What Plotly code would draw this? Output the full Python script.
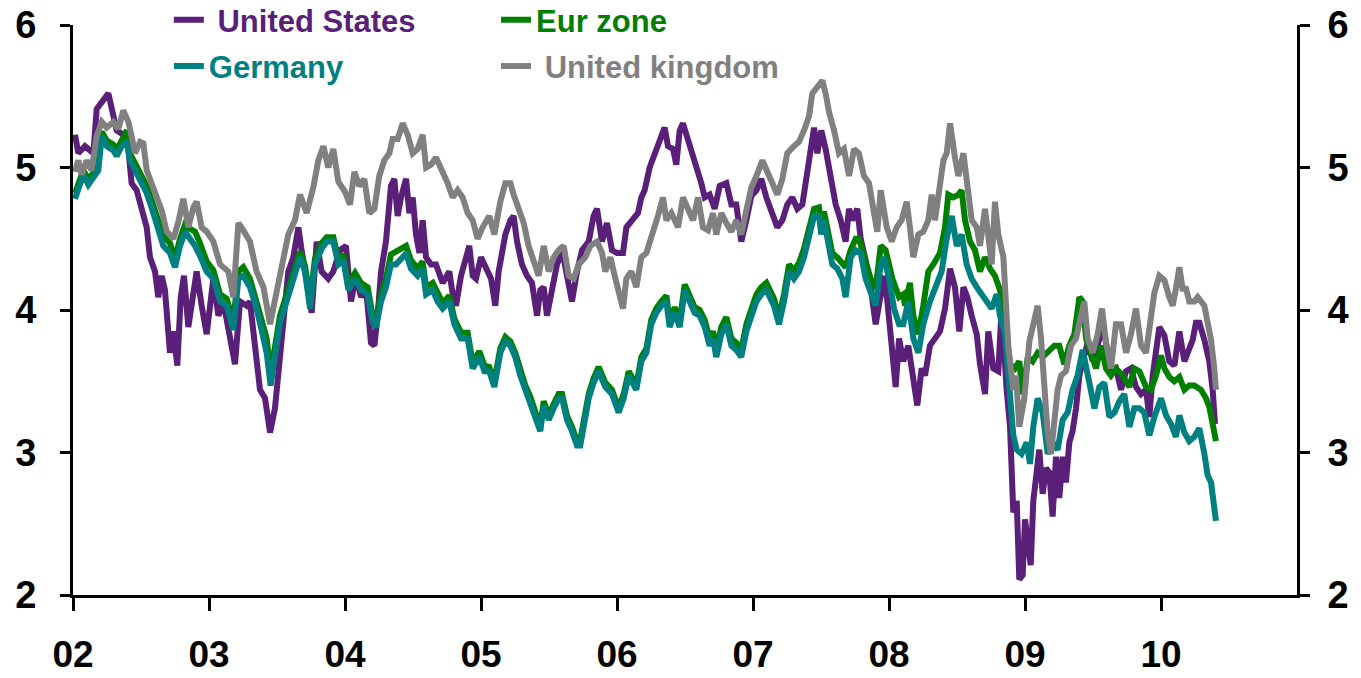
import plotly.graph_objects as go

# ---- data (decimal year, yield %) ----
us_pts = [
    (2002.015, 5.23), (2002.039, 5.10), (2002.088, 5.15), (2002.150, 5.10), (2002.174, 5.41),
    (2002.211, 5.46), (2002.260, 5.52), (2002.321, 5.26), (2002.370, 5.23), (2002.407, 5.13),
    (2002.431, 4.89), (2002.468, 4.84), (2002.505, 4.71), (2002.542, 4.58), (2002.566, 4.37),
    (2002.603, 4.27), (2002.627, 4.09), (2002.652, 4.24), (2002.676, 4.14), (2002.713, 3.70),
    (2002.738, 3.85), (2002.767, 3.61), (2002.792, 4.09), (2002.816, 4.24), (2002.848, 3.88),
    (2002.885, 4.16), (2002.909, 4.27), (2002.946, 4.03), (2002.983, 3.83), (2003.032, 4.22),
    (2003.069, 3.96), (2003.105, 4.06), (2003.154, 3.80), (2003.191, 3.62), (2003.228, 4.06),
    (2003.277, 4.03), (2003.301, 4.06), (2003.338, 3.70), (2003.375, 3.44), (2003.412, 3.38),
    (2003.449, 3.14), (2003.485, 3.31), (2003.510, 3.57), (2003.547, 3.96), (2003.583, 4.27),
    (2003.620, 4.37), (2003.657, 4.58), (2003.681, 4.42), (2003.718, 4.22), (2003.755, 3.98),
    (2003.792, 4.48), (2003.828, 4.27), (2003.877, 4.22), (2003.914, 4.27), (2003.963, 4.42),
    (2004.007, 4.45), (2004.044, 4.06), (2004.081, 4.24), (2004.118, 4.09), (2004.154, 4.16),
    (2004.191, 3.77), (2004.216, 3.75), (2004.240, 3.96), (2004.265, 4.27), (2004.301, 4.48),
    (2004.338, 4.87), (2004.363, 4.92), (2004.387, 4.66), (2004.412, 4.79), (2004.449, 4.92),
    (2004.473, 4.68), (2004.498, 4.79), (2004.522, 4.53), (2004.547, 4.40), (2004.571, 4.63),
    (2004.596, 4.37), (2004.632, 4.32), (2004.669, 4.32), (2004.718, 4.19), (2004.767, 4.27),
    (2004.792, 4.11), (2004.816, 4.03), (2004.853, 4.24), (2004.877, 4.32), (2004.914, 4.45),
    (2004.939, 4.24), (2004.963, 4.22), (2005.000, 4.37), (2005.037, 4.29), (2005.074, 4.22),
    (2005.105, 4.03), (2005.130, 4.27), (2005.179, 4.53), (2005.216, 4.63), (2005.240, 4.66),
    (2005.265, 4.48), (2005.301, 4.32), (2005.338, 4.24), (2005.375, 4.19), (2005.412, 3.96),
    (2005.436, 4.14), (2005.461, 4.16), (2005.485, 3.96), (2005.522, 4.16), (2005.559, 4.32),
    (2005.596, 4.42), (2005.632, 4.24), (2005.669, 4.06), (2005.706, 4.27), (2005.743, 4.42),
    (2005.792, 4.48), (2005.828, 4.66), (2005.853, 4.71), (2005.890, 4.48), (2005.926, 4.61),
    (2005.963, 4.42), (2006.000, 4.40), (2006.044, 4.40), (2006.069, 4.58), (2006.105, 4.63),
    (2006.154, 4.68), (2006.179, 4.79), (2006.203, 4.84), (2006.240, 5.00), (2006.277, 5.10),
    (2006.314, 5.20), (2006.350, 5.28), (2006.375, 5.15), (2006.412, 5.13), (2006.436, 5.02),
    (2006.461, 5.26), (2006.485, 5.31), (2006.522, 5.20), (2006.547, 5.10), (2006.583, 5.00),
    (2006.620, 4.89), (2006.645, 4.79), (2006.681, 4.81), (2006.718, 4.71), (2006.755, 4.87),
    (2006.804, 4.89), (2006.841, 4.74), (2006.877, 4.74), (2006.914, 4.48), (2006.951, 4.63),
    (2006.988, 4.80), (2007.025, 4.84), (2007.061, 4.92), (2007.098, 4.79), (2007.142, 4.68),
    (2007.179, 4.58), (2007.216, 4.63), (2007.252, 4.74), (2007.289, 4.79), (2007.326, 4.71),
    (2007.363, 4.74), (2007.387, 4.89), (2007.412, 5.10), (2007.449, 5.28), (2007.473, 5.10),
    (2007.502, 5.26), (2007.534, 5.13), (2007.571, 4.92), (2007.608, 4.74), (2007.645, 4.63),
    (2007.681, 4.48), (2007.706, 4.71), (2007.730, 4.63), (2007.767, 4.71), (2007.792, 4.50),
    (2007.828, 4.35), (2007.865, 4.16), (2007.902, 3.90), (2007.939, 4.11), (2007.963, 4.24),
    (2007.988, 4.06), (2008.025, 3.75), (2008.049, 3.46), (2008.074, 3.80), (2008.105, 3.64),
    (2008.142, 3.75), (2008.179, 3.49), (2008.208, 3.33), (2008.240, 3.59), (2008.265, 3.54),
    (2008.301, 3.75), (2008.338, 3.80), (2008.375, 3.85), (2008.412, 4.01), (2008.449, 4.29),
    (2008.485, 4.16), (2008.517, 3.85), (2008.547, 4.16), (2008.576, 4.09), (2008.608, 3.96),
    (2008.645, 3.83), (2008.669, 3.62), (2008.706, 3.41), (2008.730, 3.85), (2008.767, 3.59),
    (2008.804, 3.57), (2008.828, 4.01), (2008.865, 3.44), (2008.890, 3.18), (2008.914, 2.58),
    (2008.939, 2.66), (2008.958, 2.11), (2008.983, 2.14), (2009.000, 2.53), (2009.025, 2.37),
    (2009.042, 2.21), (2009.061, 2.66), (2009.086, 2.92), (2009.105, 3.02), (2009.130, 2.71),
    (2009.154, 2.89), (2009.179, 2.86), (2009.203, 2.55), (2009.228, 2.97), (2009.252, 2.68),
    (2009.277, 2.97), (2009.301, 2.79), (2009.326, 3.07), (2009.350, 3.15), (2009.375, 3.31),
    (2009.400, 3.54), (2009.424, 3.64), (2009.461, 3.77), (2009.498, 3.64), (2009.534, 3.75),
    (2009.571, 3.90), (2009.596, 3.77), (2009.632, 3.57), (2009.669, 3.59), (2009.706, 3.44),
    (2009.743, 3.57), (2009.779, 3.59), (2009.816, 3.46), (2009.853, 3.41), (2009.890, 3.44),
    (2009.914, 3.25), (2009.939, 3.54), (2009.963, 3.75), (2009.988, 3.88), (2010.025, 3.82),
    (2010.061, 3.64), (2010.098, 3.61), (2010.135, 3.85), (2010.172, 3.64), (2010.208, 3.73),
    (2010.233, 3.79), (2010.257, 3.91), (2010.282, 3.91), (2010.319, 3.79), (2010.355, 3.64),
    (2010.380, 3.44), (2010.397, 3.20),
]

uk_pts = [
    (2002.015, 4.97), (2002.039, 5.05), (2002.064, 4.95), (2002.100, 5.05), (2002.137, 4.98),
    (2002.174, 5.22), (2002.211, 5.32), (2002.248, 5.28), (2002.297, 5.32), (2002.333, 5.27),
    (2002.370, 5.40), (2002.407, 5.32), (2002.431, 5.22), (2002.456, 5.10), (2002.493, 5.18),
    (2002.517, 5.17), (2002.542, 4.98), (2002.578, 4.88), (2002.615, 4.80), (2002.652, 4.70),
    (2002.689, 4.55), (2002.738, 4.50), (2002.775, 4.62), (2002.811, 4.78), (2002.848, 4.58),
    (2002.885, 4.72), (2002.909, 4.76), (2002.946, 4.58), (2002.983, 4.55), (2003.032, 4.48),
    (2003.081, 4.32), (2003.142, 4.27), (2003.179, 4.09), (2003.216, 4.61), (2003.252, 4.56),
    (2003.301, 4.48), (2003.350, 4.27), (2003.400, 4.16), (2003.449, 3.90), (2003.485, 4.06),
    (2003.534, 4.32), (2003.583, 4.53), (2003.632, 4.63), (2003.669, 4.81), (2003.718, 4.68),
    (2003.767, 4.86), (2003.804, 5.05), (2003.841, 5.15), (2003.877, 5.00), (2003.914, 5.13),
    (2003.951, 4.90), (2004.000, 4.83), (2004.037, 4.74), (2004.069, 4.97), (2004.105, 4.87),
    (2004.142, 4.92), (2004.179, 4.68), (2004.216, 4.71), (2004.252, 4.94), (2004.289, 5.05),
    (2004.326, 5.10), (2004.350, 5.20), (2004.387, 5.20), (2004.424, 5.31), (2004.461, 5.23),
    (2004.498, 5.10), (2004.534, 5.13), (2004.571, 5.23), (2004.596, 5.00), (2004.632, 5.02),
    (2004.669, 5.07), (2004.718, 4.97), (2004.755, 4.89), (2004.792, 4.79), (2004.828, 4.84),
    (2004.865, 4.79), (2004.902, 4.68), (2004.939, 4.63), (2004.975, 4.50), (2005.012, 4.58),
    (2005.061, 4.66), (2005.098, 4.53), (2005.142, 4.76), (2005.179, 4.89), (2005.216, 4.89),
    (2005.240, 4.81), (2005.277, 4.71), (2005.314, 4.61), (2005.350, 4.45), (2005.387, 4.35),
    (2005.424, 4.24), (2005.461, 4.45), (2005.498, 4.27), (2005.534, 4.37), (2005.571, 4.42),
    (2005.608, 4.45), (2005.645, 4.24), (2005.681, 4.22), (2005.718, 4.32), (2005.767, 4.37),
    (2005.804, 4.45), (2005.853, 4.48), (2005.890, 4.40), (2005.914, 4.27), (2005.951, 4.37),
    (2005.988, 4.22), (2006.025, 4.06), (2006.044, 4.01), (2006.069, 4.22), (2006.105, 4.27),
    (2006.142, 4.16), (2006.179, 4.37), (2006.216, 4.40), (2006.252, 4.50), (2006.301, 4.66),
    (2006.338, 4.79), (2006.363, 4.63), (2006.400, 4.68), (2006.449, 4.58), (2006.485, 4.79),
    (2006.522, 4.71), (2006.559, 4.63), (2006.596, 4.79), (2006.632, 4.58), (2006.669, 4.56),
    (2006.706, 4.68), (2006.730, 4.53), (2006.767, 4.68), (2006.804, 4.61), (2006.841, 4.55),
    (2006.877, 4.63), (2006.914, 4.53), (2006.951, 4.70), (2006.988, 4.86), (2007.025, 4.94),
    (2007.069, 5.05), (2007.105, 4.97), (2007.142, 4.89), (2007.179, 4.81), (2007.216, 4.92),
    (2007.252, 5.10), (2007.301, 5.15), (2007.338, 5.18), (2007.375, 5.26), (2007.412, 5.36),
    (2007.436, 5.52), (2007.473, 5.57), (2007.510, 5.61), (2007.534, 5.52), (2007.559, 5.39),
    (2007.596, 5.26), (2007.632, 5.10), (2007.669, 5.13), (2007.706, 4.94), (2007.743, 5.13),
    (2007.779, 5.10), (2007.816, 4.94), (2007.853, 4.89), (2007.890, 4.68), (2007.914, 4.55),
    (2007.939, 4.84), (2007.958, 4.74), (2007.983, 4.58), (2008.020, 4.48), (2008.056, 4.58),
    (2008.093, 4.63), (2008.130, 4.76), (2008.154, 4.58), (2008.179, 4.37), (2008.216, 4.53),
    (2008.252, 4.55), (2008.289, 4.63), (2008.314, 4.81), (2008.338, 4.63), (2008.375, 4.89),
    (2008.400, 5.05), (2008.424, 5.10), (2008.449, 5.31), (2008.485, 5.07), (2008.510, 4.94),
    (2008.547, 5.10), (2008.571, 4.92), (2008.608, 4.63), (2008.645, 4.58), (2008.669, 4.45),
    (2008.706, 4.71), (2008.730, 4.48), (2008.755, 4.32), (2008.779, 4.76), (2008.804, 4.53),
    (2008.841, 4.37), (2008.877, 3.75), (2008.914, 3.44), (2008.934, 3.54), (2008.958, 3.18),
    (2008.995, 3.38), (2009.032, 3.78), (2009.069, 3.96), (2009.093, 4.03), (2009.118, 3.80),
    (2009.142, 3.44), (2009.167, 3.13), (2009.191, 2.99), (2009.216, 3.23), (2009.240, 3.44),
    (2009.265, 3.54), (2009.301, 3.57), (2009.338, 3.75), (2009.375, 3.80), (2009.412, 3.96),
    (2009.436, 4.06), (2009.461, 3.80), (2009.498, 3.70), (2009.534, 3.83), (2009.566, 4.01),
    (2009.596, 3.77), (2009.632, 3.59), (2009.669, 3.90), (2009.706, 3.90), (2009.743, 3.70),
    (2009.779, 3.83), (2009.816, 4.01), (2009.853, 3.75), (2009.890, 3.70), (2009.926, 4.00),
    (2009.951, 4.12), (2009.988, 4.24), (2010.025, 4.21), (2010.061, 4.09), (2010.086, 4.03),
    (2010.110, 4.15), (2010.135, 4.30), (2010.159, 4.15), (2010.184, 4.15), (2010.208, 4.06),
    (2010.245, 4.06), (2010.270, 4.09), (2010.294, 4.06), (2010.319, 4.03), (2010.343, 3.91),
    (2010.368, 3.79), (2010.392, 3.59), (2010.404, 3.44),
]

de_pts = [
    (2002.015, 4.78), (2002.039, 4.85), (2002.076, 4.95), (2002.113, 4.88), (2002.150, 4.93),
    (2002.186, 4.98), (2002.211, 5.22), (2002.248, 5.15), (2002.297, 5.12), (2002.321, 5.08),
    (2002.358, 5.15), (2002.395, 5.18), (2002.419, 5.05), (2002.456, 4.98), (2002.493, 4.92),
    (2002.542, 4.82), (2002.578, 4.72), (2002.615, 4.60), (2002.664, 4.45), (2002.713, 4.40),
    (2002.750, 4.30), (2002.787, 4.45), (2002.824, 4.55), (2002.860, 4.50), (2002.897, 4.45),
    (2002.934, 4.38), (2002.983, 4.27), (2003.032, 4.22), (2003.081, 4.06), (2003.130, 4.03),
    (2003.179, 3.86), (2003.216, 4.22), (2003.252, 4.24), (2003.301, 4.16), (2003.350, 4.01),
    (2003.387, 3.86), (2003.424, 3.70), (2003.453, 3.47), (2003.485, 3.67), (2003.522, 3.91),
    (2003.571, 4.06), (2003.620, 4.22), (2003.669, 4.37), (2003.706, 4.27), (2003.743, 4.01),
    (2003.779, 4.32), (2003.828, 4.43), (2003.865, 4.48), (2003.914, 4.48), (2003.951, 4.32),
    (2003.988, 4.35), (2004.025, 4.14), (2004.074, 4.22), (2004.118, 4.14), (2004.167, 4.11),
    (2004.203, 3.91), (2004.228, 3.88), (2004.265, 4.06), (2004.301, 4.16), (2004.338, 4.32),
    (2004.375, 4.32), (2004.424, 4.37), (2004.449, 4.40), (2004.485, 4.29), (2004.534, 4.24),
    (2004.571, 4.29), (2004.596, 4.11), (2004.645, 4.14), (2004.681, 4.06), (2004.718, 4.01),
    (2004.767, 4.06), (2004.804, 3.90), (2004.853, 3.80), (2004.902, 3.80), (2004.939, 3.59),
    (2004.988, 3.67), (2005.025, 3.57), (2005.061, 3.57), (2005.098, 3.46), (2005.142, 3.70),
    (2005.179, 3.78), (2005.216, 3.75), (2005.252, 3.67), (2005.289, 3.54), (2005.326, 3.44),
    (2005.363, 3.36), (2005.400, 3.25), (2005.436, 3.15), (2005.461, 3.33), (2005.498, 3.23),
    (2005.534, 3.31), (2005.571, 3.38), (2005.596, 3.38), (2005.632, 3.23), (2005.669, 3.15),
    (2005.706, 3.05), (2005.730, 3.05), (2005.755, 3.20), (2005.792, 3.38), (2005.828, 3.49),
    (2005.865, 3.57), (2005.914, 3.46), (2005.963, 3.41), (2006.012, 3.28), (2006.049, 3.38),
    (2006.086, 3.54), (2006.142, 3.44), (2006.179, 3.64), (2006.216, 3.70), (2006.252, 3.90),
    (2006.289, 3.98), (2006.326, 4.03), (2006.363, 4.06), (2006.387, 3.88), (2006.424, 3.98),
    (2006.461, 3.88), (2006.498, 4.14), (2006.534, 4.06), (2006.571, 3.98), (2006.608, 3.96),
    (2006.645, 3.88), (2006.681, 3.75), (2006.706, 3.80), (2006.730, 3.67), (2006.767, 3.83),
    (2006.804, 3.90), (2006.841, 3.75), (2006.877, 3.72), (2006.914, 3.67), (2006.951, 3.85),
    (2006.988, 3.96), (2007.025, 4.06), (2007.061, 4.11), (2007.098, 4.14), (2007.154, 4.03),
    (2007.191, 3.90), (2007.228, 4.06), (2007.265, 4.27), (2007.301, 4.22), (2007.338, 4.27),
    (2007.375, 4.37), (2007.412, 4.50), (2007.449, 4.66), (2007.485, 4.66), (2007.502, 4.53),
    (2007.522, 4.63), (2007.559, 4.42), (2007.583, 4.32), (2007.620, 4.29), (2007.657, 4.22),
    (2007.681, 4.09), (2007.718, 4.37), (2007.755, 4.42), (2007.792, 4.40), (2007.828, 4.22),
    (2007.865, 4.11), (2007.902, 4.03), (2007.939, 4.32), (2007.963, 4.37), (2008.000, 4.22),
    (2008.037, 4.01), (2008.074, 3.90), (2008.105, 3.90), (2008.142, 4.06), (2008.179, 3.80),
    (2008.216, 3.70), (2008.252, 3.90), (2008.301, 4.06), (2008.338, 4.16), (2008.387, 4.27),
    (2008.424, 4.50), (2008.461, 4.66), (2008.498, 4.45), (2008.534, 4.53), (2008.571, 4.32),
    (2008.608, 4.22), (2008.645, 4.16), (2008.681, 4.11), (2008.718, 4.06), (2008.755, 4.01),
    (2008.792, 4.11), (2008.816, 3.96), (2008.853, 3.83), (2008.890, 3.44), (2008.914, 3.12),
    (2008.939, 3.02), (2008.975, 2.99), (2009.012, 3.07), (2009.037, 2.92), (2009.061, 3.18),
    (2009.093, 3.38), (2009.130, 3.28), (2009.167, 2.99), (2009.203, 3.07), (2009.240, 3.02),
    (2009.277, 3.23), (2009.314, 3.28), (2009.350, 3.44), (2009.387, 3.54), (2009.424, 3.72),
    (2009.449, 3.62), (2009.473, 3.49), (2009.510, 3.31), (2009.547, 3.46), (2009.583, 3.49),
    (2009.620, 3.25), (2009.657, 3.28), (2009.694, 3.36), (2009.730, 3.41), (2009.767, 3.18),
    (2009.804, 3.31), (2009.841, 3.31), (2009.877, 3.28), (2009.914, 3.12), (2009.951, 3.25),
    (2010.000, 3.38), (2010.037, 3.26), (2010.074, 3.20), (2010.110, 3.11), (2010.135, 3.26),
    (2010.172, 3.14), (2010.208, 3.08), (2010.245, 3.11), (2010.282, 3.17), (2010.319, 2.99),
    (2010.343, 2.84), (2010.368, 2.79), (2010.392, 2.64), (2010.404, 2.52),
]

ez_pts = [
    (2002.015, 4.82), (2002.039, 4.88), (2002.076, 4.98), (2002.113, 4.92), (2002.150, 4.96),
    (2002.186, 5.02), (2002.211, 5.25), (2002.248, 5.19), (2002.297, 5.16), (2002.321, 5.12),
    (2002.358, 5.20), (2002.395, 5.26), (2002.419, 5.10), (2002.456, 5.03), (2002.493, 4.97),
    (2002.542, 4.87), (2002.578, 4.77), (2002.615, 4.66), (2002.664, 4.52), (2002.713, 4.47),
    (2002.750, 4.36), (2002.787, 4.50), (2002.824, 4.60), (2002.860, 4.57), (2002.897, 4.55),
    (2002.934, 4.47), (2002.983, 4.34), (2003.032, 4.28), (2003.081, 4.11), (2003.130, 4.08),
    (2003.179, 3.92), (2003.216, 4.27), (2003.252, 4.30), (2003.301, 4.22), (2003.350, 4.07),
    (2003.387, 3.93), (2003.424, 3.80), (2003.453, 3.55), (2003.485, 3.74), (2003.522, 3.96),
    (2003.571, 4.11), (2003.620, 4.27), (2003.669, 4.41), (2003.706, 4.31), (2003.743, 4.06),
    (2003.779, 4.36), (2003.828, 4.47), (2003.865, 4.51), (2003.914, 4.51), (2003.951, 4.36),
    (2003.988, 4.39), (2004.025, 4.18), (2004.074, 4.26), (2004.118, 4.19), (2004.167, 4.16),
    (2004.203, 3.96), (2004.228, 3.93), (2004.265, 4.11), (2004.301, 4.22), (2004.338, 4.39),
    (2004.375, 4.41), (2004.424, 4.43), (2004.449, 4.45), (2004.485, 4.35), (2004.534, 4.29),
    (2004.571, 4.34), (2004.596, 4.16), (2004.645, 4.19), (2004.681, 4.11), (2004.718, 4.05),
    (2004.767, 4.10), (2004.804, 3.94), (2004.853, 3.84), (2004.902, 3.84), (2004.939, 3.63),
    (2004.988, 3.71), (2005.025, 3.61), (2005.061, 3.60), (2005.098, 3.50), (2005.142, 3.73),
    (2005.179, 3.81), (2005.216, 3.78), (2005.252, 3.70), (2005.289, 3.57), (2005.326, 3.47),
    (2005.363, 3.39), (2005.400, 3.28), (2005.436, 3.18), (2005.461, 3.36), (2005.498, 3.26),
    (2005.534, 3.34), (2005.571, 3.41), (2005.596, 3.41), (2005.632, 3.26), (2005.669, 3.18),
    (2005.706, 3.08), (2005.730, 3.09), (2005.755, 3.23), (2005.792, 3.41), (2005.828, 3.52),
    (2005.865, 3.60), (2005.914, 3.49), (2005.963, 3.44), (2006.012, 3.31), (2006.049, 3.41),
    (2006.086, 3.57), (2006.142, 3.47), (2006.179, 3.67), (2006.216, 3.73), (2006.252, 3.93),
    (2006.289, 4.01), (2006.326, 4.06), (2006.363, 4.10), (2006.387, 3.92), (2006.424, 4.02),
    (2006.461, 3.92), (2006.498, 4.18), (2006.534, 4.10), (2006.571, 4.02), (2006.608, 4.00),
    (2006.645, 3.93), (2006.681, 3.80), (2006.706, 3.85), (2006.730, 3.72), (2006.767, 3.88),
    (2006.804, 3.95), (2006.841, 3.80), (2006.877, 3.77), (2006.914, 3.72), (2006.951, 3.90),
    (2006.988, 4.01), (2007.025, 4.11), (2007.061, 4.16), (2007.098, 4.19), (2007.154, 4.08),
    (2007.191, 3.95), (2007.228, 4.11), (2007.265, 4.32), (2007.301, 4.28), (2007.338, 4.33),
    (2007.375, 4.43), (2007.412, 4.56), (2007.449, 4.71), (2007.485, 4.72), (2007.502, 4.60),
    (2007.522, 4.69), (2007.559, 4.49), (2007.583, 4.40), (2007.620, 4.37), (2007.657, 4.33),
    (2007.681, 4.30), (2007.718, 4.42), (2007.755, 4.50), (2007.779, 4.50), (2007.828, 4.32),
    (2007.865, 4.22), (2007.902, 4.15), (2007.939, 4.45), (2007.975, 4.42), (2008.025, 4.22),
    (2008.074, 4.09), (2008.105, 4.11), (2008.118, 4.03), (2008.154, 4.19), (2008.179, 3.96),
    (2008.216, 3.83), (2008.252, 4.03), (2008.289, 4.27), (2008.326, 4.32), (2008.375, 4.40),
    (2008.412, 4.58), (2008.436, 4.81), (2008.473, 4.79), (2008.510, 4.81), (2008.534, 4.84),
    (2008.559, 4.63), (2008.596, 4.48), (2008.632, 4.42), (2008.669, 4.27), (2008.706, 4.37),
    (2008.743, 4.29), (2008.779, 4.24), (2008.816, 4.14), (2008.853, 3.88), (2008.890, 3.62),
    (2008.926, 3.59), (2008.958, 3.64), (2008.983, 3.41), (2009.020, 3.67), (2009.056, 3.64),
    (2009.093, 3.70), (2009.130, 3.67), (2009.167, 3.70), (2009.216, 3.75), (2009.252, 3.75),
    (2009.289, 3.62), (2009.326, 3.75), (2009.363, 3.83), (2009.400, 4.09), (2009.424, 4.06),
    (2009.449, 3.80), (2009.485, 3.70), (2009.522, 3.59), (2009.559, 3.75), (2009.596, 3.59),
    (2009.632, 3.54), (2009.669, 3.59), (2009.718, 3.54), (2009.767, 3.46), (2009.804, 3.59),
    (2009.841, 3.57), (2009.890, 3.46), (2009.926, 3.44), (2009.963, 3.54), (2010.000, 3.68),
    (2010.025, 3.59), (2010.061, 3.53), (2010.098, 3.50), (2010.135, 3.53), (2010.172, 3.44),
    (2010.208, 3.47), (2010.245, 3.47), (2010.294, 3.44), (2010.331, 3.38), (2010.355, 3.32),
    (2010.380, 3.20), (2010.404, 3.08),
]

year_ticks = [2002, 2003, 2004, 2005, 2006, 2007, 2008, 2009, 2010]
year_labels = ["02", "03", "04", "05", "06", "07", "08", "09", "10"]
y_ticks = [2, 3, 4, 5, 6]

series = [
    ("United States", " United States", us_pts, "#5A1F78", "legend"),
    ("Eur zone", "Eur zone", ez_pts, "#008000", "legend2"),
    ("Germany", "Germany", de_pts, "#008080", "legend"),
    ("United kingdom", " United kingdom", uk_pts, "#808080", "legend2"),
]

fig = go.Figure()
for key, label, pts, color, leg in series:
    xs = [p[0] for p in pts]
    ys = [p[1] for p in pts]
    fig.add_trace(go.Scatter(
        x=xs, y=ys, mode="lines", name=f"<span style='color:{color}'>{label}</span>",
        line=dict(color=color, width=6), legend=leg, legendgroup=key,
    ))

# invisible trace to anchor the right-hand axis
fig.add_trace(go.Scatter(x=[None], y=[None], yaxis="y2", showlegend=False, hoverinfo="skip"))

tick_font = dict(family="Liberation Sans, Arial, sans-serif", size=38, color="black", weight="bold")
xtick_font = dict(family="Liberation Sans, Arial, sans-serif", size=37, color="black", weight="bold")
leg_font = dict(family="Liberation Sans, Arial, sans-serif", size=31, weight="bold")

fig.update_layout(
    width=1361, height=678,
    margin=dict(l=73, r=64, t=25, b=83, autoexpand=False),
    paper_bgcolor="white", plot_bgcolor="white",
    font=dict(family="Liberation Sans, Arial, sans-serif"),
    xaxis=dict(
        range=[2002, 2011], tickvals=year_ticks, ticktext=year_labels,
        showline=True, linecolor="black", linewidth=3, mirror=False,
        ticks="outside", ticklen=13, tickwidth=3, tickcolor="black",
        showgrid=False, zeroline=False, tickfont=xtick_font, ticklabelstandoff=12,
    ),
    yaxis=dict(
        range=[2, 6], tickvals=y_ticks,
        showline=True, linecolor="black", linewidth=3,
        ticks="outside", ticklen=10, tickwidth=3, tickcolor="black",
        showgrid=False, zeroline=False, tickfont=tick_font, ticklabelstandoff=16,
    ),
    yaxis2=dict(
        range=[2, 6], tickvals=y_ticks, overlaying="y", side="right",
        showline=True, linecolor="black", linewidth=3,
        ticks="outside", ticklen=10, tickwidth=3, tickcolor="black",
        showgrid=False, zeroline=False, tickfont=tick_font, ticklabelstandoff=10,
    ),
    legend=dict(x=0.0783, y=1.056, xanchor="left", yanchor="top", orientation="v",
                font=leg_font, bgcolor="rgba(0,0,0,0)", tracegroupgap=3, itemwidth=30),
    legend2=dict(x=0.3456, y=1.056, xanchor="left", yanchor="top", orientation="v",
                 font=leg_font, bgcolor="rgba(0,0,0,0)", tracegroupgap=3, itemwidth=30),
    showlegend=True,
)

fig.write_html("out.html", config={"displayModeBar": False},
               post_script="document.body.style.margin='0';")
